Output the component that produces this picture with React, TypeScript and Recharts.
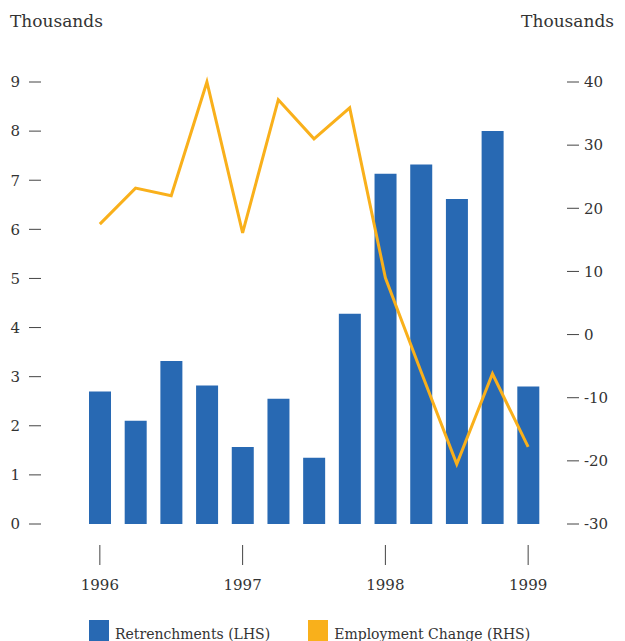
import { ComposedChart, Bar, Line, XAxis, YAxis } from 'recharts';

const quarters = [
  '1996 Q1', '1996 Q2', '1996 Q3', '1996 Q4',
  '1997 Q1', '1997 Q2', '1997 Q3', '1997 Q4',
  '1998 Q1', '1998 Q2', '1998 Q3', '1998 Q4',
  '1999 Q1',
];
const retrenchments = [2.7, 2.1, 3.32, 2.82, 1.57, 2.55, 1.35, 4.28, 7.13, 7.32, 6.62, 8.0, 2.8];
const employmentChange = [17.5, 23.2, 22, 40, 16.1, 37.2, 31, 35.9, 9, -5.9, -20.5, -6.2, -17.8];
const leftTicks = [0, 1, 2, 3, 4, 5, 6, 7, 8, 9];
const rightTicks = [-30, -20, -10, 0, 10, 20, 30, 40];

const BLUE = '#2869b3';
const ORANGE = '#f9b01b';
const TEXT = '#333';
const FONT = '"DejaVu Serif", serif';

const chartData = quarters.map((q, i) => ({
  quarter: q,
  retrenchments: retrenchments[i],
  employment: employmentChange[i],
}));

const YearTick = ({ x, y, payload }: any) => (
  <g>
    <line x1={x} x2={x} y1={y + 21} y2={y + 41} stroke="#444" strokeWidth={1} />
    <text x={x} y={y + 66} textAnchor="middle" fill={TEXT} fontSize={15} fontFamily={FONT}>
      {String(payload.value).slice(0, 4)}
    </text>
  </g>
);

export default function App() {
  const tickStyle = { fill: TEXT, fontSize: 15, fontFamily: FONT };
  return (
    <div style={{ position: 'relative', width: 609, height: 633, fontFamily: FONT }}>
      <div style={{ position: 'absolute', left: 2, top: 3, fontSize: 17, color: TEXT }}>Thousands</div>
      <div style={{ position: 'absolute', right: 3, top: 3, fontSize: 17, color: TEXT }}>Thousands</div>

      <ComposedChart
        width={609}
        height={633}
        data={chartData}
        margin={{ top: 74, right: 0, bottom: 37, left: 0 }}
      >
        <XAxis
          dataKey="quarter"
          interval={3}
          axisLine={false}
          tickLine={false}
          tickSize={0}
          tickMargin={0}
          height={80}
          padding={{ left: 41, right: 21 }}
          tick={<YearTick />}
        />
        <YAxis
          yAxisId="left"
          domain={[0, 9]}
          ticks={leftTicks}
          width={33}
          axisLine={false}
          tickLine={{ stroke: '#444' }}
          tickSize={12}
          tickMargin={9}
          tick={tickStyle}
        />
        <YAxis
          yAxisId="right"
          orientation="right"
          domain={[-30, 40]}
          ticks={rightTicks}
          width={50}
          axisLine={false}
          tickLine={{ stroke: '#444' }}
          tickSize={12}
          tickMargin={5}
          tick={tickStyle}
        />
        <Bar yAxisId="left" dataKey="retrenchments" fill={BLUE} barSize={22} isAnimationActive={false} />
        <Line
          yAxisId="right"
          type="linear"
          dataKey="employment"
          stroke={ORANGE}
          strokeWidth={3}
          dot={false}
          isAnimationActive={false}
        />
      </ComposedChart>

      {/* legend */}
      <div style={{ position: 'absolute', left: 81, top: 612, display: 'flex', fontSize: 14, color: TEXT }}>
        <div style={{ display: 'flex', alignItems: 'flex-end' }}>
          <span style={{ width: 20, height: 22, background: BLUE, display: 'inline-block', marginRight: 6 }} />
          <span>Retrenchments (LHS)</span>
        </div>
        <div style={{ display: 'flex', alignItems: 'flex-end', marginLeft: 38 }}>
          <span style={{ width: 20, height: 22, background: ORANGE, display: 'inline-block', marginRight: 6 }} />
          <span>Employment Change (RHS)</span>
        </div>
      </div>
    </div>
  );
}
